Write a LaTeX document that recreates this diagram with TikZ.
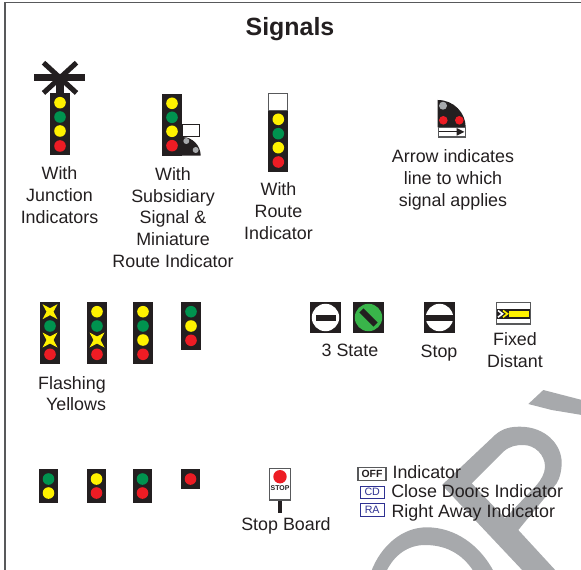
\documentclass[tikz,border=0pt]{standalone}
\usepackage{fontspec}
\setmainfont{Liberation Sans}
\definecolor{sigblack}{HTML}{231F20}
\definecolor{sigyellow}{HTML}{FFF200}
\definecolor{siggreen}{HTML}{00934F}
\definecolor{sigred}{HTML}{ED1C24}
\definecolor{siggrey}{HTML}{A7A9AC}
\definecolor{limegreen}{HTML}{39B54A}
\definecolor{indblue}{HTML}{2E3192}
\definecolor{edgegrey}{HTML}{58595B}
\tikzset{
 px/.style={x=0.75pt,y=-0.75pt},
 headbox/.style={fill=sigblack,draw=none},
 lbl/.style={font=\fontsize{13.4}{16.3}\selectfont,align=center,text=sigblack,inner sep=0pt},
 ind/.style={font=\fontsize{13.4}{16}\selectfont,anchor=west,text=sigblack,inner sep=0pt},
 yl/.style={fill=sigyellow},
 gn/.style={fill=siggreen},
 rd/.style={fill=sigred},
 gy/.style={fill=siggrey},
 wmark/.style={fill=siggrey,draw=none,even odd rule},
 frameline/.style={draw=edgegrey,line width=1pt},
 bluebox/.style={draw=indblue,line width=0.6pt,fill=white},
}
\newcommand{\lamp}[3]{\fill[#1] (#2,#3) circle[radius=5.8];}
\newcommand{\smalllamp}[3]{\fill[#1] (#2,#3) circle[radius=4.3];}
\newcommand{\fstar}[2]{\fill[sigyellow,shift={(#1,#2)}] (-7.5,-7.5) -- (0,-3.5) -- (7.5,-7.5) -- (3.5,0) -- (7.5,7.5) -- (0,3.5) -- (-7.5,7.5) -- (-3.5,0) -- cycle;}
\begin{document}
\begin{tikzpicture}[px]
\useasboundingbox (0,0) rectangle (581,570);
% watermark
\begin{scope}
\clip (0,0) rectangle (581,570);
\fill[wmark] (442,485) -- (495,435) .. controls (503,428) and (511,426.7) .. (520,426.7)
  .. controls (545,426.7) and (561.7,444) .. (561.7,463)
  .. controls (561.7,470) and (560,478) .. (556.7,483.3)
  -- (518.3,530) -- (557,572) -- (524,572) -- cycle
  (471.7,483.3) -- (503.3,451.7) .. controls (510,446) and (516,445) .. (523.3,445)
  .. controls (535,445) and (545,455) .. (545,466.7)
  .. controls (545,473) and (541,480) .. (536.7,485)
  -- (505,518.3) -- cycle;
\fill[wmark] (543.3,390) -- (528.3,404) -- (551.7,410) -- (582,415) -- (582,400) -- cycle;
\fill[wmark] (371,572) .. controls (381,545) and (403,527.3) .. (426.7,527.3)
  .. controls (455,527.3) and (480,545) .. (494,572)
  -- (474,572) .. controls (462,553) and (445,545) .. (425,545)
  .. controls (408,545) and (394,555) .. (386,572) -- cycle;
\end{scope}
\draw[frameline] (581,2.5) -- (5,2.5) -- (5,570);
\node[font=\bfseries\fontsize{18.7}{20}\selectfont,text=sigblack,inner sep=0pt] (title) at (290,29) {Signals};

% junction signal
\fill[sigblack] (56,77) rectangle (64,93);
\draw[sigblack,line width=3.8pt] (43.5,62.7) -- (76.5,93) (43.5,93) -- (76.5,62.7);
\fill[sigblack] (34,74.5) rectangle (85,81);
\fill[headbox] (50,93) rectangle (70,155);
\lamp{yl}{60}{102.7}\lamp{gn}{60}{117}\lamp{yl}{60}{131}\lamp{rd}{60}{146}
\node[lbl] (l1) at (59.5,195) {With\\Junction\\Indicators};

% subsidiary signal
\fill[headbox] (162,94) rectangle (182,155.7);
\lamp{yl}{172}{103.3}\lamp{gn}{172}{117.3}\lamp{yl}{172}{131.3}\lamp{rd}{172}{145.7}
\draw[sigblack,fill=white,line width=0.6pt] (182,124.3) rectangle (199.5,136.7);
\fill[sigblack] (182,137) -- (182,155.7) -- (200.7,155.7) .. controls (200.7,146) and (193,137) .. (182,137) -- cycle;
\fill[siggrey] (186.3,141) circle[radius=3] (195.7,150) circle[radius=3];
\node[lbl] (l2) at (173,217.5) {With\\Subsidiary\\Signal \&\\Miniature\\Route Indicator};

% route indicator
\draw[edgegrey,fill=white,line width=0.9pt] (268.5,93.7) rectangle (287.5,110.7);
\fill[headbox] (268,110.7) rectangle (288,171.7);
\lamp{yl}{278.3}{119.3}\lamp{gn}{278.3}{133.7}\lamp{yl}{278.3}{147.7}\lamp{rd}{278.3}{162}
\node[lbl] (l3) at (278.5,211) {With\\Route\\Indicator};

% arrow route signal
\fill[sigblack] (437.7,100) -- (437.7,127.3) -- (465.7,127.3) .. controls (465.7,113) and (454,100) .. (437.7,100) -- cycle;
\fill[siggrey] (443,105.7) circle[radius=4];
\smalllamp{rd}{443.3}{120.3}\smalllamp{rd}{459.3}{120.3}
\draw[edgegrey,fill=white,line width=0.9pt] (438.2,127.3) rectangle (465.2,137);
\draw[sigblack,line width=0.7pt] (439,131.7) -- (457,131.7);
\fill[sigblack] (456.7,128) -- (464.3,131.9) -- (456.7,135.7) -- cycle;
\node[lbl] (l4) at (453,180) {Arrow indicates\\line to which\\signal applies};

% flashing yellows row
\fill[headbox] (40,302) rectangle (60,364);
\fstar{50}{311.7}\lamp{gn}{50}{326}\fstar{50}{340}\lamp{rd}{50}{354.3}
\fill[headbox] (87,302) rectangle (107,364);
\lamp{yl}{97}{311.7}\lamp{gn}{97}{326}\fstar{97}{340}\lamp{rd}{97}{354.3}
\fill[headbox] (133,302) rectangle (153,364);
\lamp{yl}{143}{311.7}\lamp{gn}{143}{326}\lamp{yl}{143}{340}\lamp{rd}{143}{354.3}
\fill[headbox] (181,302) rectangle (201,350);
\lamp{gn}{191}{311.7}\lamp{yl}{191}{326}\lamp{rd}{191}{340.3}
\node[lbl] (l5) at (72,393.5) {Flashing\\\hspace*{6pt}Yellows};

% position lights
\fill[sigblack] (310,302) rectangle (341,333);
\fill[white] (325.5,317.5) circle[radius=13.7];
\fill[sigblack] (315.5,314.5) rectangle (335.5,320.5);
\fill[sigblack] (353,302) rectangle (384,333);
\fill[limegreen] (368.5,317.5) circle[radius=13.7];
\fill[sigblack,rotate around={-45:(368.5,317.5)}] (358.5,314.5) rectangle (378.5,320.5);
\node[lbl] (l6) at (350,350) {3 State};
\fill[sigblack] (424,302) rectangle (455,333);
\fill[white] (439.5,317.5) circle[radius=13.7];
\fill[sigblack] (424,314.5) rectangle (455,320.5);
\node[lbl] (l7) at (439,353) {Stop};

% fixed distant
\draw[edgegrey,fill=white,line width=1.1pt] (496.5,302.5) rectangle (530.5,324);
\fill[sigblack] (497,309) rectangle (530,318.7);
\fill[sigyellow] (509,310.5) rectangle (528.5,317.2);
\draw[white,line width=1.2pt] (498,310.5) -- (502.5,313.8) -- (498,317.2);
\draw[sigyellow,line width=1.2pt] (503,310.5) -- (507.5,313.8) -- (503,317.2);
\node[lbl] (l8) at (515,350) {Fixed\\Distant};

% two-aspect row
\fill[headbox] (39,469) rectangle (58,503);
\lamp{gn}{48.5}{479}\lamp{yl}{48.5}{493}
\fill[headbox] (87,469) rectangle (106,503);
\lamp{yl}{96.5}{479}\lamp{rd}{96.5}{493}
\fill[headbox] (133,469) rectangle (152,503);
\lamp{gn}{142.5}{479}\lamp{rd}{142.5}{493}
\fill[headbox] (181,469) rectangle (200,489);
\lamp{rd}{190.5}{479}

% stop board
\fill[sigblack] (278,500) rectangle (282,512.7);
\draw[edgegrey,fill=white,line width=0.8pt] (269.3,468.3) rectangle (290.7,500);
\fill[sigred] (280,476.7) circle[radius=6.7];
\node[font=\bfseries\fontsize{5.2}{6}\selectfont,text=sigblack,inner sep=0pt] (stoptext) at (280,488.5) {STOP};
\node[lbl] (l9) at (286,526) {Stop Board};

% indicators
\node[draw=edgegrey,line width=0.9pt,fill=white,minimum width=21pt,minimum height=9.8pt,inner sep=0pt,font=\bfseries\fontsize{7.8}{8}\selectfont,text=sigblack] (off) at (372,474) {OFF};
\node[bluebox,minimum width=17.6pt,minimum height=9.6pt,inner sep=0pt,font=\fontsize{8}{8}\selectfont,text=indblue] (cd) at (372.2,492.3) {CD};
\node[bluebox,minimum width=17.6pt,minimum height=9.6pt,inner sep=0pt,font=\fontsize{8}{8}\selectfont,text=indblue] (ra) at (372.2,509.8) {RA};
\node[ind] (t1) at (392.3,472.5) {Indicator};
\node[ind] (t2) at (391,491) {Close Doors Indicator};
\node[ind] (t3) at (391.3,513) {Right Away Indicator};
\end{tikzpicture}
\end{document}
